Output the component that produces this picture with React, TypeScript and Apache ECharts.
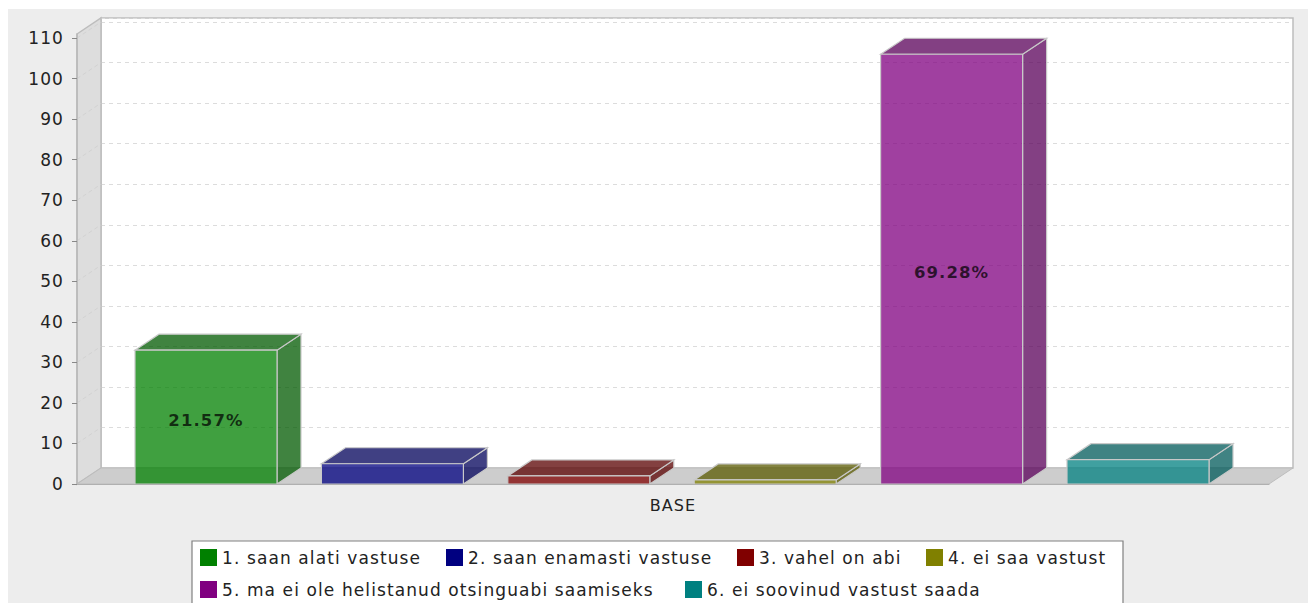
import React, { useEffect, useRef } from "react";
import * as echarts from "echarts";

const categories = ["BASE"];
const seriesNames = [
  "1. saan alati vastuse",
  "2. saan enamasti vastuse",
  "3. vahel on abi",
  "4. ei saa vastust",
  "5. ma ei ole helistanud otsinguabi saamiseks",
  "6. ei soovinud vastust saada",
];
const seriesValues = [33, 5, 2, 1, 106, 6];
const percentLabels = ["21.57%", "", "", "", "69.28%", ""];
const seriesRgb = [
  [0, 128, 0],
  [0, 0, 128],
  [128, 0, 0],
  [128, 128, 0],
  [128, 0, 128],
  [0, 128, 128],
];
const yTicks = [0, 10, 20, 30, 40, 50, 60, 70, 80, 90, 100, 110];
const yMax = 111;

const FONT = "DejaVu Sans";
const DX = 24;
const DY = 16;
const BAR_W = 142 / 1192;
const BAR_STEP = 186.4 / 1192;
const ALPHA = 0.75;
const EDGE = "#c9c9c9";
const legendLefts = [200, 446, 737, 926, 200, 685];
const legendTops = [549, 549, 549, 549, 581, 581];

const rgba = (c: number[], k: number, a: number) =>
  `rgba(${Math.round(c[0] * k)},${Math.round(c[1] * k)},${Math.round(c[2] * k)},${a})`;

function barRenderer(index: number) {
  return (_params: any, api: any) => {
    const base = api.coord([api.value(0), 0]);
    const top = api.coord([api.value(0), api.value(1)]);
    const band = api.size([1, 0])[0];
    const w = band * BAR_W;
    const x0 = base[0] - 1 + (index - 2.5) * band * BAR_STEP - w / 2;
    const x1 = x0 + w;
    const yB = base[1];
    const yT = top[1];
    const c = seriesRgb[index];
    const face = rgba(c, 1, ALPHA);
    const dark = rgba(c, 0.7, ALPHA);
    const children: any[] = [
      {
        type: "polygon",
        shape: { points: [[x1, yB], [x1 + DX, yB - DY], [x1 + DX, yT - DY], [x1, yT]] },
        style: { fill: dark, stroke: EDGE, lineWidth: 1.2 },
      },
      {
        type: "polygon",
        shape: { points: [[x0, yT], [x0 + DX, yT - DY], [x1 + DX, yT - DY], [x1, yT]] },
        style: { fill: dark, stroke: EDGE, lineWidth: 1.2 },
      },
      {
        type: "rect",
        shape: { x: x0, y: yT, width: w, height: yB - yT },
        style: { fill: face, stroke: EDGE, lineWidth: 1.2 },
      },
    ];
    if (percentLabels[index]) {
      children.push({
        type: "text",
        style: {
          text: percentLabels[index],
          x: (x0 + x1) / 2,
          y: (yB + yT) / 2 + 3,
          align: "center",
          verticalAlign: "middle",
          fill: "rgba(0,0,0,0.72)",
          font: `bold 16.5px "${FONT}"`,
        },
      });
    }
    return { type: "group", children };
  };
}

function wallLineRenderer(_params: any, api: any) {
  const p = api.coord([0, api.value(1)]);
  const left = p[0] - api.size([1, 0])[0] / 2;
  return {
    type: "line",
    shape: { x1: left, y1: p[1], x2: left + DX, y2: p[1] - DY },
    style: { stroke: "#d2d2d2", lineWidth: 1, lineDash: [4, 3] },
    silent: true,
  };
}

export default function App() {
  const ref = useRef<HTMLDivElement>(null);

  useEffect(() => {
    const chart = echarts.init(ref.current!, undefined, { renderer: "svg" });
    const frontGrid = { left: 77, top: 34, width: 1192, height: 450 };
    const backGrid = { left: 101, top: 18, width: 1192, height: 450 };
    chart.setOption({
      animation: false,
      backgroundColor: "#ffffff",
      textStyle: { fontFamily: FONT },
      graphic: [
        {
          type: "rect",
          z: -10,
          silent: true,
          shape: { x: 8, y: 9, width: 1300, height: 594 },
          style: { fill: "#ededed" },
        },
        {
          type: "polygon",
          z: 1,
          silent: true,
          shape: { points: [[77, 34], [101, 18], [101, 468], [77, 484]] },
          style: { fill: "#dddddd", stroke: "#bdbdbd", lineWidth: 1.5 },
        },
        {
          type: "polygon",
          z: 1,
          silent: true,
          shape: { points: [[77, 484], [101, 468], [1293, 468], [1269, 484]] },
          style: { fill: "#cdcdcd", stroke: "#bdbdbd", lineWidth: 1 },
        },
        {
          type: "rect",
          z: 1,
          silent: true,
          shape: { x: 192, y: 541, width: 931, height: 80 },
          style: { fill: "#ffffff", stroke: "#808080", lineWidth: 1.2 },
        },
      ],
      grid: [
        { ...frontGrid, containLabel: false },
        { ...backGrid, show: true, backgroundColor: "#ffffff", borderColor: "#bdbdbd", borderWidth: 1.5 },
      ],
      xAxis: [
        {
          gridIndex: 0,
          type: "category",
          data: categories,
          axisTick: { show: false },
          axisLine: { show: true, lineStyle: { color: "#b0b0b0", width: 1.2 } },
          axisLabel: { fontFamily: FONT, fontSize: 16, color: "#222", margin: 13 },
          z: 4,
        },
        {
          gridIndex: 1,
          type: "category",
          data: categories,
          show: false,
        },
      ],
      yAxis: [
        {
          gridIndex: 0,
          type: "value",
          min: 0,
          max: yMax,
          interval: 10,
          splitLine: { show: false },
          axisLine: { show: true, lineStyle: { color: "#b8b8b8", width: 1.5 } },
          axisTick: { show: true, length: 5, lineStyle: { color: "#888888" } },
          axisLabel: {
            fontFamily: FONT,
            fontSize: 17,
            color: "#222",
            margin: 13,
            showMaxLabel: false,
          },
          z: 4,
        },
        {
          gridIndex: 1,
          type: "value",
          min: 0,
          max: yMax,
          interval: 10,
          axisLine: { show: false },
          axisTick: { show: false },
          axisLabel: { show: false },
          splitLine: { show: true, lineStyle: { color: "#dcdcdc", type: [4, 4], width: 1 } },
        },
      ],
      legend: seriesNames.map((name, i) => ({
        orient: "horizontal",
        left: legendLefts[i],
        top: legendTops[i],
        padding: 0,
        icon: "rect",
        itemWidth: 17,
        itemHeight: 17,
        selectedMode: false,
        textStyle: { fontFamily: FONT, fontSize: 17, color: "#222" },
        data: [name],
      })),
      series: [
        {
          type: "custom",
          name: "wall",
          xAxisIndex: 0,
          yAxisIndex: 0,
          z: 2,
          silent: true,
          clip: false,
          data: yTicks.slice(1).map((t) => [0, t]),
          encode: { x: 0, y: 1 },
          renderItem: wallLineRenderer,
        },
        ...seriesNames.map((name, i) => ({
          type: "custom",
          name,
          xAxisIndex: 0,
          yAxisIndex: 0,
          z: 3,
          clip: false,
          itemStyle: { color: `rgb(${seriesRgb[i].join(",")})` },
          data: [[0, seriesValues[i]]],
          encode: { x: 0, y: 1 },
          renderItem: barRenderer(i),
        })),
      ],
    });
    return () => chart.dispose();
  }, []);

  return (
    <div
      ref={ref}
      style={{
        position: "fixed",
        left: 0,
        top: 0,
        width: 1311,
        height: 603,
        overflow: "hidden",
        letterSpacing: "1.1px",
      }}
    />
  );
}
